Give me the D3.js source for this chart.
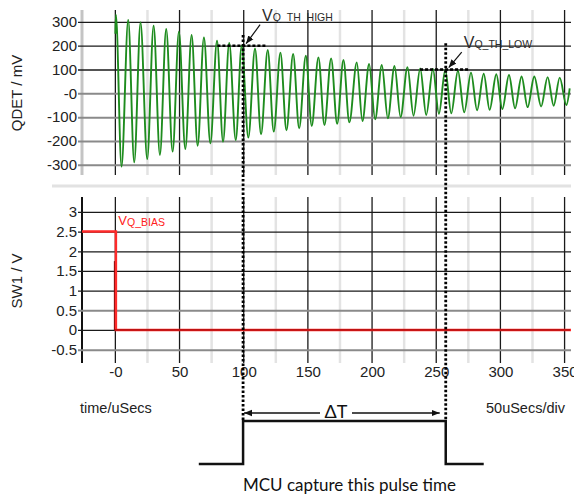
<!DOCTYPE html>
<html><head><meta charset="utf-8">
<script src="https://cdn.jsdelivr.net/npm/d3@7"></script>
<style>body{margin:0;background:#fff;} svg{display:block;}</style>
</head><body><svg id="c" width="574" height="498"></svg>
<script>
// ---------- data ----------
const xTickValues = [0, 50, 100, 150, 200, 250, 300, 350];
const xTickLabels = ["-0", "50", "100", "150", "200", "250", "300", "350"];
const xMinorTicks = [25, 75, 125, 175, 225, 275, 325];
const qdetTickValues = [300, 200, 100, 0, -100, -200, -300];
const qdetTickLabels = ["300", "200", "100", "-0", "-100", "-200", "-300"];
const sw1TickValues = [3, 2.5, 2, 1.5, 1, 0.5, 0, -0.5];
const sw1TickLabels = ["3", "2.5", "2", "1.5", "1", "0.5", "0", "-0.5"];

// QDET waveform extrema (time in uSecs, value in mV)
const qdetTime = [0, 0.4, 4.8, 10, 14.7, 19.6, 24.8, 29.8, 34.7, 39.6, 44.6, 49.5, 54.5, 59.4, 64.1, 69, 74, 79.2, 83.9, 88.7, 93.8, 98.4, 103.6, 108.8, 113.5, 118.7, 123.4, 128.6, 133.3, 138.5, 143.2, 148.4, 153, 158.2, 162.9, 168.1, 172.8, 177.7, 182.3, 188.1, 192.5, 197.7, 202.4, 207.6, 212.3, 217.5, 222.2, 227.6, 232.3, 237.5, 242.2, 247.4, 252.1, 257, 261.7, 266.9, 271.8, 277.1, 281.8, 287, 291.6, 296.8, 301.5, 306.7, 311.4, 316.5, 321.2, 326.4, 331.7, 336.8, 341.5, 346.2, 351.4, 354];
const qdetValue = [250, 330, -308, 308, -290, 298, -276, 284, -259, 270, -245, 259, -234, 245, -220, 235, -210, 221, -203, 212, -196, 200, -186, 189, -172, 182, -161, 171, -155, 165, -147, 158, -137, 151, -133, 147, -128, 140, -122, 130, -116, 123, -109, 119, -105, 115, -100, 110, -94, 105, -91, 102, -86, 98, -84, 95, -80, 87, -71, 82, -69, 80, -66, 77, -63, 71, -58, 71, -55, 68, -52, 66, -49, 21];

// SW1 trace (time in uSecs, value in V)
const sw1Time = [-26, 0.4, 0.4, 355];
const sw1Value = [2.5, 2.5, 0, 0];
const sw1DarkTime = [0, 0, 355];
const sw1DarkValue = [1.75, 0, 0];

// thresholds
const thresholdNames = ["Q_TH_HIGH", "Q_TH_LOW"];
const thresholdValues = [200, 100];
const thresholdTimes = [99.5, 257.4];
const thresholdLineTop = [245, 210];

// MCU pulse
const pulseTime = [65, 99.5, 99.5, 257.4, 257.4, 287];
const pulseLevel = [0, 0, 1, 1, 0, 0];

// ---------- layout ----------
const svg = d3.select("#c");
const FONT = "Arial, 'Liberation Sans', Helvetica, sans-serif";
const TXT = "#222";
const left = 82, right = 571;

const x = d3.scaleLinear([-26, 355], [left, right]);
const yQ = d3.scaleLinear([-343, 350], [175, 10]);
const yS = d3.scaleLinear([-0.84, 3.38], [363, 197]);
const yP = d3.scaleLinear([0, 1], [464, 421]);

svg.append("defs").append("marker")
  .attr("id", "ah").attr("viewBox", "0 0 10 10").attr("refX", 10).attr("refY", 5)
  .attr("markerWidth", 8).attr("markerHeight", 8).attr("markerUnits", "userSpaceOnUse")
  .attr("orient", "auto")
  .append("path").attr("d", "M0,1 L10,5 L0,9 Z").attr("fill", "#111");

// separator
svg.append("line").attr("x1", 52).attr("x2", right).attr("y1", 186).attr("y2", 186)
  .attr("stroke", "#e2e2e2").attr("stroke-width", 3);

function panel(y, tickVals, tickLabels, darkFn, top, bottom, borderColor) {
  svg.append("g").selectAll("line").data(xMinorTicks).join("line")
    .attr("x1", d => x(d)).attr("x2", d => x(d)).attr("y1", top).attr("y2", bottom)
    .attr("stroke", "#e3e3e3").attr("stroke-width", 2.5);
  svg.append("line").attr("x1", left).attr("x2", left).attr("y1", top).attr("y2", bottom)
    .attr("stroke", borderColor).attr("stroke-width", borderColor === "#111" ? 2 : 3);
  svg.append("g").selectAll("line").data(xTickValues).join("line")
    .attr("x1", d => x(d)).attr("x2", d => x(d)).attr("y1", top).attr("y2", bottom)
    .attr("stroke", "#1a1a1a").attr("stroke-width", 1.3);
  const ax = d3.axisLeft(y).tickValues(tickVals).tickFormat((d, i) => tickLabels[i])
    .tickSizeInner(-(right - left)).tickSizeOuter(0).tickPadding(5);
  const g = svg.append("g").attr("transform", `translate(${left},0)`).call(ax);
  g.select(".domain").remove();
  g.selectAll(".tick line").attr("x1", -4)
    .attr("stroke", d => darkFn(d) ? "#1a1a1a" : "#8a8a8a")
    .attr("stroke-width", d => darkFn(d) ? 1.3 : 2);
  g.selectAll(".tick text").attr("font-family", FONT).attr("font-size", 15).attr("fill", TXT);
}

panel(yQ, qdetTickValues, qdetTickLabels, d => d > 0, 10, 175, "#c4c4c4");
panel(yS, sw1TickValues, sw1TickLabels, d => d >= 1 || d === 0, 197, 363, "#111");

// x axis labels
const xa = d3.axisBottom(x).tickValues(xTickValues).tickFormat((d, i) => xTickLabels[i])
  .tickSize(0).tickPadding(3.5);
const xg = svg.append("g").attr("transform", "translate(0,363)").call(xa);
xg.select(".domain").remove();
xg.selectAll(".tick text").attr("font-family", FONT).attr("font-size", 15).attr("fill", TXT);

// axis titles
svg.append("text").attr("transform", "translate(22,93) rotate(-90)").attr("text-anchor", "middle")
  .attr("font-family", FONT).attr("font-size", 15).attr("fill", TXT).text("QDET / mV");
svg.append("text").attr("transform", "translate(22,281) rotate(-90)").attr("text-anchor", "middle")
  .attr("font-family", FONT).attr("font-size", 15).attr("fill", TXT).text("SW1 / V");
svg.append("text").attr("x", 80).attr("y", 413).attr("font-family", FONT).attr("font-size", 14.5)
  .attr("fill", TXT).text("time/uSecs");
svg.append("text").attr("x", 486).attr("y", 413).attr("font-family", FONT).attr("font-size", 14.5)
  .attr("fill", TXT).text("50uSecs/div");

// SW1 traces
svg.append("path").datum(sw1Time.map((t, i) => [t, sw1Value[i]]))
  .attr("d", d3.line().x(d => x(d[0])).y(d => yS(d[1]))).attr("fill", "none").attr("stroke", "#ff2a2a").attr("stroke-width", 2.5);
svg.append("path").datum(sw1DarkTime.map((t, i) => [t, sw1DarkValue[i]]))
  .attr("d", d3.line().x(d => x(d[0]) - 1).y(d => yS(d[1]))).attr("fill", "none").attr("stroke", "#8a0000").attr("stroke-width", 1);

// QDET trace
svg.append("path").datum(qdetTime.map((t, i) => [t, qdetValue[i]]))
  .attr("d", d3.line().x(d => x(d[0])).y(d => yQ(d[1])).curve(d3.curveMonotoneX))
  .attr("fill", "none").attr("stroke", "#1e8c1e").attr("stroke-width", 1.9);

// V_Q_BIAS label
const bias = svg.append("text").attr("x", x(0) + 3).attr("y", yS(2.5) - 7)
  .attr("font-family", FONT).attr("fill", "#ff2020");
bias.append("tspan").attr("font-size", 13).text("V");
bias.append("tspan").attr("font-size", 10.5).attr("dy", 1).text("Q_BIAS");

// thresholds
const lblOff = [[19, -25], [18, -21.5]];
thresholdTimes.forEach((t, i) => {
  const px = x(t), py = yQ(thresholdValues[i]);
  svg.append("line").attr("x1", x(t - 20)).attr("x2", x(t + 18)).attr("y1", py).attr("y2", py)
    .attr("stroke", "#000").attr("stroke-width", 2.6).attr("stroke-dasharray", "3,2");
  svg.append("line").attr("x1", px).attr("x2", px).attr("y1", yQ(thresholdLineTop[i])).attr("y2", yP(1))
    .attr("stroke", "#000").attr("stroke-width", 2.8).attr("stroke-dasharray", "2.5,2");
  const lx = px + lblOff[i][0], ly = py + lblOff[i][1];
  const tx = svg.append("text").attr("x", lx).attr("y", ly).attr("font-family", FONT).attr("fill", "#2a2a2a");
  tx.append("tspan").attr("font-size", 16).text("V");
  tx.append("tspan").attr("font-size", 10.5).text(thresholdNames[i]);
  svg.append("line").attr("x1", lx - 2).attr("y1", ly + 4).attr("x2", px + 3).attr("y2", py - 2)
    .attr("stroke", "#111").attr("stroke-width", 1.2).attr("marker-end", "url(#ah)");
});

// pulse
svg.append("path").datum(pulseTime.map((t, i) => [t, pulseLevel[i]]))
  .attr("d", d3.line().x(d => x(d[0])).y(d => yP(d[1])))
  .attr("fill", "none").attr("stroke", "#111").attr("stroke-width", 2.5);

// delta T arrow
const ay = 413;
svg.append("line").attr("x1", 320).attr("x2", x(thresholdTimes[0]) + 1).attr("y1", ay).attr("y2", ay)
  .attr("stroke", "#111").attr("stroke-width", 1.3).attr("marker-end", "url(#ah)");
svg.append("line").attr("x1", 352).attr("x2", x(thresholdTimes[1]) - 6).attr("y1", ay).attr("y2", ay)
  .attr("stroke", "#111").attr("stroke-width", 1.3).attr("marker-end", "url(#ah)");
svg.append("text").attr("x", 336).attr("y", 418).attr("text-anchor", "middle")
  .attr("font-family", "Lato, 'Open Sans', sans-serif").attr("font-size", 18).attr("fill", "#111").text("ΔT");

svg.append("text").attr("x", 243).attr("y", 491).attr("textLength", 213).attr("lengthAdjust", "spacingAndGlyphs")
  .attr("font-family", "Lato, 'Open Sans', sans-serif").attr("font-size", 17).attr("fill", "#111")
  .text("MCU capture this pulse time");
</script></body></html>
